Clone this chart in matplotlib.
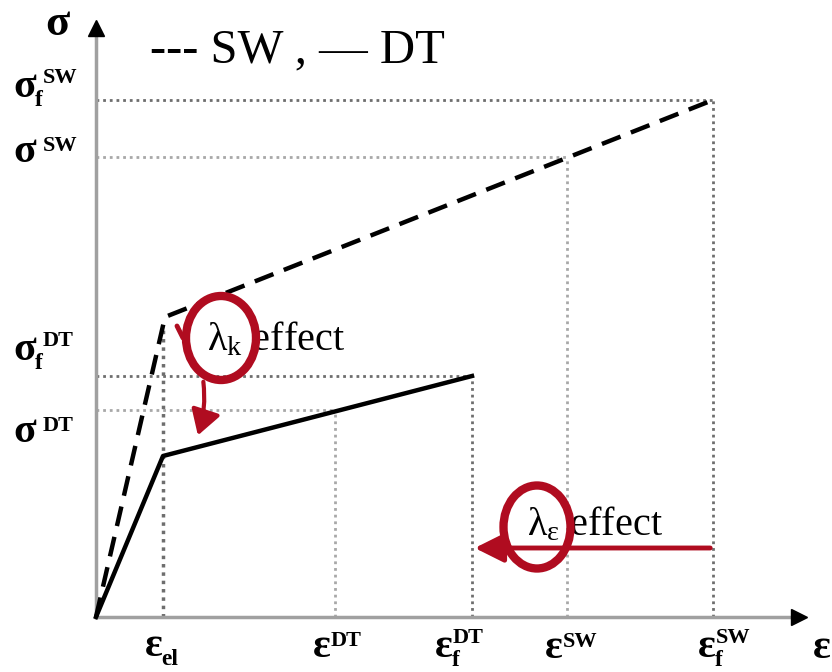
import matplotlib
matplotlib.use("Agg")
import matplotlib.pyplot as plt
from matplotlib.patches import Ellipse, FancyArrowPatch

plt.rcParams['font.family'] = ['Liberation Serif', 'DejaVu Serif']
plt.rcParams['mathtext.fontset'] = 'custom'
plt.rcParams['mathtext.rm'] = 'Liberation Serif'
plt.rcParams['mathtext.it'] = 'Liberation Serif:italic'
plt.rcParams['mathtext.bf'] = 'Liberation Serif:bold'

# strain / stress levels (arbitrary units)
eps_el = 0.67
eps_kink_sw = 0.69
eps_dt = 2.39
eps_f_dt = 3.76
eps_sw = 4.71
eps_f_sw = 6.17

sig_y_sw = 3.00
sig_y_dt = 1.61
sig_dt = 2.07
sig_f_dt = 2.41
sig_sw = 4.60
sig_f_sw = 5.17

sw_eps = [0, eps_kink_sw, eps_f_sw]
sw_sig = [0, sig_y_sw, sig_f_sw]
dt_eps = [0, eps_el, eps_f_dt]
dt_sig = [0, sig_y_dt, sig_f_dt]

# tick-like labels: (symbol, subscript, superscript, left x, baseline y)
x_labels = [('ε', 'el', '', 0.49, -0.39),
            ('ε', '', 'DT', 2.17, -0.40),
            ('ε', 'f', 'DT', 3.39, -0.40),
            ('ε', '', 'SW', 4.49, -0.41),
            ('ε', 'f', 'SW', 6.02, -0.40)]
y_labels = [('σ', 'f', 'SW', -0.83, 5.20),
            ('σ', '', 'SW', -0.83, 4.55),
            ('σ', 'f', 'DT', -0.83, 2.57),
            ('σ', '', 'DT', -0.83, 1.75)]

red = '#b00c20'
dark = '#6e6e6e'
light = '#a8a8a8'
dots = (0, (1, 1.4))

fig = plt.figure(figsize=(8.32, 6.72), dpi=100)
ax = fig.add_axes([0, 0, 1, 1])
ax.set_xlim(-0.96, 7.36)
ax.set_ylim(-0.55, 6.17)
ax.axis('off')
renderer = fig.canvas.get_renderer()

# guide lines
ax.plot([0, eps_f_sw], [sig_f_sw, sig_f_sw], color=dark, lw=2, ls=dots, zorder=1)
ax.plot([0, eps_sw], [sig_sw, sig_sw], color=light, lw=2, ls=dots, zorder=1)
ax.plot([0, eps_f_dt], [sig_f_dt, sig_f_dt], color=dark, lw=2, ls=dots, zorder=1)
ax.plot([0, eps_dt], [sig_dt, sig_dt], color=light, lw=2, ls=dots, zorder=1)
ax.plot([eps_el, eps_el], [0, 2.87], color=dark, lw=2.5, ls=dots, zorder=1)
ax.plot([eps_dt, eps_dt], [0, sig_dt], color=light, lw=2, ls=dots, zorder=1)
ax.plot([eps_f_dt, eps_f_dt], [0, sig_f_dt], color=dark, lw=2, ls=dots, zorder=1)
ax.plot([eps_sw, eps_sw], [0, sig_sw], color=light, lw=2, ls=dots, zorder=1)
ax.plot([eps_f_sw, eps_f_sw], [0, sig_f_sw], color=dark, lw=2, ls=dots, zorder=1)

# axes
ax.plot([0, 7.0], [0, 0], color='#a0a0a0', lw=2.5, zorder=2)
ax.plot([0, 0], [0, 5.85], color='#a0a0a0', lw=2.5, zorder=2)
ax.plot(7.03, 0, marker='>', color='black', ms=11, zorder=2)
ax.plot(0, 5.89, marker='^', color='black', ms=11, zorder=2)

# curves
ax.plot(sw_eps, sw_sig, color='black', lw=3.2, ls=(0, (4.5, 2.5)), zorder=3)
ax.plot(dt_eps, dt_sig, color='black', lw=3.2, zorder=3)


def sym_label(sym, sub, sup, x, y, size=30, sub_size=17, sup_size=16):
    t = ax.text(x, y, sym, fontsize=size, fontweight='bold', ha='left', va='baseline')
    bb = t.get_window_extent(renderer).transformed(ax.transData.inverted())
    gap = 0.07 if sym == 'σ' else 0.0
    if sub:
        ax.text(bb.x1 - 0.01, y - 0.09, sub, fontsize=sub_size, fontweight='bold',
                ha='left', va='baseline')
    if sup:
        raise_ = 0.14 if sub else 0.11
        ax.text(bb.x1 + gap, y + raise_, sup, fontsize=sup_size, fontweight='bold',
                ha='left', va='baseline')


for lab in x_labels:
    sym_label(*lab)
for lab in y_labels:
    sym_label(*lab)

ax.text(-0.51, 5.82, 'σ', fontsize=32, fontweight='bold', ha='left', va='baseline')
ax.text(7.17, -0.41, 'ε', fontsize=30, fontweight='bold', ha='left', va='baseline')

ax.text(0.54, 5.67, '--- SW , \u2014 DT', fontsize=35, ha='left', va='center')

# lambda effects
ax.text(1.11, 2.67, r'$\mathrm{λ_k}$ effect', fontsize=29, va='baseline', zorder=4)
ax.text(4.31, 0.82, r'$\mathrm{λ_ε}$ effect', fontsize=29, va='baseline', zorder=4)

ax.add_patch(Ellipse((1.25, 2.79), 0.70, 0.84, fill=False, ec=red, lw=6, zorder=5))
ax.add_patch(Ellipse((4.41, 0.90), 0.67, 0.83, fill=False, ec=red, lw=6, zorder=5))
ax.plot([0.81, 0.87], [2.91, 2.79], color=red, lw=3.5, solid_capstyle='round', zorder=5)

ax.add_patch(FancyArrowPatch((1.07, 2.38), (1.01, 1.79), connectionstyle='arc3,rad=-0.12',
                             arrowstyle='-|>,head_length=0.75,head_width=0.45',
                             mutation_scale=20, color=red, lw=3, zorder=5))
ax.add_patch(FancyArrowPatch((eps_f_sw, 0.69), (eps_f_dt, 0.69),
                             arrowstyle='-|>,head_length=0.8,head_width=0.4',
                             mutation_scale=22, color=red, lw=3.5, zorder=5))

fig.savefig('out.png', dpi=100)
